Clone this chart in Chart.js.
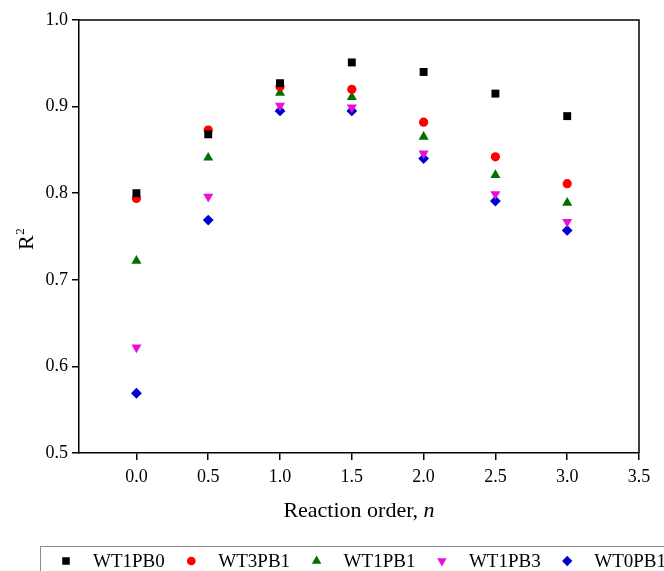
<!DOCTYPE html>
<html>
<head>
<meta charset="utf-8">
<script src="https://cdn.jsdelivr.net/npm/chart.js@4/dist/chart.umd.min.js"></script>
<style>
  body { margin: 0; background: #fff; }
  #wrap { width: 664px; height: 571px; }
</style>
</head>
<body>
<div id="wrap"><canvas id="c" width="664" height="571"></canvas></div>
<script>
// reaction order n on the x axis
const orders = [0, 0.5, 1.0, 1.5, 2.0, 2.5, 3.0];

// R^2 per sample
const wt1pb0 = [0.800, 0.868, 0.927, 0.951, 0.940, 0.915, 0.889];
const wt3pb1 = [0.794, 0.873, 0.923, 0.920, 0.882, 0.842, 0.811];
const wt1pb1 = [0.722, 0.841, 0.916, 0.911, 0.865, 0.821, 0.789];
const wt1pb3 = [0.622, 0.796, 0.901, 0.899, 0.846, 0.799, 0.767];
const wt0pb1 = [0.569, 0.769, 0.895, 0.895, 0.840, 0.791, 0.757];

const seriesNames = ['WT1PB0', 'WT3PB1', 'WT1PB1', 'WT1PB3', 'WT0PB1'];
const xTicks = [0, 0.5, 1.0, 1.5, 2.0, 2.5, 3.0, 3.5];
const yTicks = [0.5, 0.6, 0.7, 0.8, 0.9, 1.0];

const serif = "'Liberation Serif', 'DejaVu Serif', serif";

const styles = [
    { color: '#000000', pointStyle: 'rect', radius: 5.6, rotation: 0 },
    { color: '#ff0000', pointStyle: 'circle', radius: 4.6, rotation: 0 },
    { color: '#007000', pointStyle: 'triangle', radius: 5.8, rotation: 0 },
    { color: '#e810d8', pointStyle: 'triangle', radius: 5.8, rotation: 180 },
    { color: '#0000d0', pointStyle: 'rectRot', radius: 5.4, rotation: 0 }
];

const allValues = [wt1pb0, wt3pb1, wt1pb1, wt1pb3, wt0pb1];

const datasets = allValues.map((vals, i) => ({
    label: seriesNames[i],
    data: orders.map((x, j) => ({ x: x, y: vals[j] })),
    backgroundColor: styles[i].color,
    borderColor: styles[i].color,
    borderWidth: 0,
    pointStyle: styles[i].pointStyle,
    pointRadius: styles[i].radius,
    pointRotation: styles[i].rotation,
    pointHoverRadius: styles[i].radius
}));

// frame, axis titles and boxed legend
const decor = {
    id: 'decor',
    afterDraw(chart) {
        const ctx = chart.ctx;
        const a = chart.chartArea;
        ctx.save();
        ctx.strokeStyle = '#000';
        ctx.lineWidth = 1.5;
        ctx.beginPath();
        ctx.moveTo(a.left, a.top);
        ctx.lineTo(a.right, a.top);
        ctx.lineTo(a.right, a.bottom);
        ctx.stroke();

        // x title with italic n
        ctx.fillStyle = '#000';
        ctx.textBaseline = 'alphabetic';
        ctx.textAlign = 'left';
        const part1 = 'Reaction order, ';
        ctx.font = '22px ' + serif;
        const w1 = ctx.measureText(part1).width;
        ctx.font = 'italic 22px ' + serif;
        const w2 = ctx.measureText('n').width;
        let sx = 359 - (w1 + w2) / 2;
        ctx.font = '22px ' + serif;
        ctx.fillText(part1, sx, 517);
        ctx.font = 'italic 22px ' + serif;
        ctx.fillText('n', sx + w1, 517);

        // y title R^2
        ctx.save();
        ctx.translate(33, 250);
        ctx.rotate(-Math.PI / 2);
        ctx.font = '22px ' + serif;
        ctx.fillText('R', 0, 0);
        const rw = ctx.measureText('R').width;
        ctx.font = '13px ' + serif;
        ctx.fillText('2', rw + 0.5, -9);
        ctx.restore();

        // legend
        ctx.strokeStyle = '#8c8c8c';
        ctx.lineWidth = 1;
        ctx.strokeRect(40.5, 546.5, 640, 40);
        ctx.font = '19px ' + serif;
        seriesNames.forEach((name, i) => {
            const cx = 66 + i * 125.3;
            const st = styles[i];
            ctx.fillStyle = st.color;
            ctx.strokeStyle = st.color;
            ctx.lineWidth = 0;
            if (Chart.helpers && Chart.helpers.drawPoint) {
                Chart.helpers.drawPoint(ctx, {
                    pointStyle: st.pointStyle,
                    radius: st.radius * 0.95,
                    rotation: st.rotation,
                    borderWidth: 0
                }, cx, 561);
            }
            ctx.fillStyle = '#000';
            ctx.fillText(name, cx + 27, 567);
        });
        ctx.restore();
    }
};

new Chart(document.getElementById('c'), {
    type: 'scatter',
    data: { datasets: datasets },
    plugins: [decor],
    options: {
        responsive: false,
        animation: false,
        layout: { padding: { left: 0, right: 25, top: 20, bottom: 0 } },
        plugins: {
            legend: { display: false },
            tooltip: { enabled: false }
        },
        scales: {
            x: {
                type: 'linear',
                min: -0.4,
                max: 3.5,
                afterBuildTicks: scale => {
                    scale.ticks = xTicks.map(v => ({ value: v }));
                },
                afterFit: scale => { scale.height = 118; },
                grid: {
                    drawOnChartArea: false,
                    drawTicks: true,
                    tickLength: 7,
                    color: '#000',
                    lineWidth: 1.5
                },
                border: { display: true, color: '#000', width: 1.5 },
                ticks: {
                    color: '#000',
                    padding: 6,
                    font: { family: serif, size: 18 },
                    callback: v => Number(v).toFixed(1)
                }
            },
            y: {
                type: 'linear',
                min: 0.5,
                max: 1.0,
                afterBuildTicks: scale => {
                    scale.ticks = yTicks.map(v => ({ value: v }));
                },
                afterFit: scale => { scale.width = 79; },
                grid: {
                    drawOnChartArea: false,
                    drawTicks: true,
                    tickLength: 7,
                    color: '#000',
                    lineWidth: 1.5
                },
                border: { display: true, color: '#000', width: 1.5 },
                ticks: {
                    color: '#000',
                    padding: 4,
                    font: { family: serif, size: 18 },
                    callback: v => Number(v).toFixed(1)
                }
            }
        }
    }
});
</script>
</body>
</html>
